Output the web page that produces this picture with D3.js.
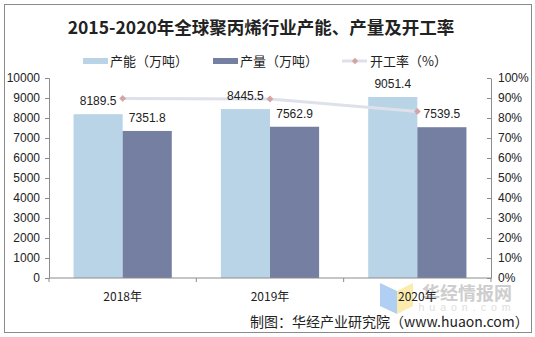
<!DOCTYPE html>
<html><head><meta charset="utf-8">
<script src="https://cdn.jsdelivr.net/npm/d3@7"></script>
<style>
body{margin:0;background:#fff;}
svg{display:block;}
</style></head>
<body>
<svg id="c" width="535" height="337"></svg>
<script>
const categories = ["2018年","2019年","2020年"];
const capacity = [8189.5, 8445.5, 9051.4];
const production = [7351.8, 7562.9, 7539.5];
const rate = [89.8, 89.5, 83.3];
const leftTicks = [0,1000,2000,3000,4000,5000,6000,7000,8000,9000,10000];
const rightTicks = [0,10,20,30,40,50,60,70,80,90,100];
const title = "2015-2020年全球聚丙烯行业产能、产量及开工率";
const legendNames = ["产能（万吨）","产量（万吨）","开工率（%）"];
const source = "制图：华经产业研究院（www.huaon.com）";

const colLight = "#b8d4e6", colDark = "#747fa1", colLine = "#dfe1ea", colDot = "#d4a4a4";
const numFont = "'Liberation Sans', Arial, sans-serif";
const cjkFont = "'Noto Sans CJK SC', 'Liberation Sans', sans-serif";

const svg = d3.select("#c");
svg.append("rect").attr("x",4.5).attr("y",4.5).attr("width",527).attr("height",328)
  .attr("fill","#fff").attr("stroke","#8a8a8a").attr("stroke-width",1);

const L = 49, R = 491, T = 78, B = 278;
const x = d3.scaleBand().domain(categories).range([L,R]).padding(0);
const y = d3.scaleLinear().domain([0,10000]).range([B,T]);
const y2 = d3.scaleLinear().domain([0,100]).range([B,T]);
const bw = x.bandwidth()/3;

// title
svg.append("text").attr("x",261).attr("y",34).attr("text-anchor","middle")
  .attr("font-family","'Noto Sans CJK SC', sans-serif").attr("font-weight","bold")
  .attr("font-size",17.5).attr("fill","#222").text(title);

// legend
const lg = svg.append("g").attr("font-family",cjkFont).attr("font-size",13).attr("fill","#222");
lg.append("rect").attr("x",83).attr("y",58).attr("width",25).attr("height",6).attr("fill",colLight);
lg.append("text").attr("x",110).attr("y",66).text(legendNames[0]);
lg.append("rect").attr("x",213).attr("y",58).attr("width",25).attr("height",6).attr("fill",colDark);
lg.append("text").attr("x",240).attr("y",66).text(legendNames[1]);
lg.append("line").attr("x1",342).attr("x2",367).attr("y1",61).attr("y2",61).attr("stroke",colLine).attr("stroke-width",3);
lg.append("path").attr("d",d3.symbol(d3.symbolDiamond2,26)()).attr("transform","translate(355,61)").attr("fill",colDot);
lg.append("text").attr("x",370).attr("y",66).text(legendNames[2]);

// watermark
const wm = svg.append("g").attr("opacity",0.9);
wm.append("path").attr("d","M380,283 L397,291 L397,314 L380,306 Z").attr("fill","#a9c9f2");
wm.append("path").attr("d","M397,291 L413,283 L413,306 L397,314 Z").attr("fill","#fbeaa6");
wm.append("text").attr("x",467).attr("y",300).attr("text-anchor","middle")
  .attr("font-family","'Noto Sans CJK SC', sans-serif").attr("font-weight","bold")
  .attr("font-size",18).attr("fill","#c9c9c9").text("华经情报网");
wm.append("text").attr("x",467).attr("y",311).attr("text-anchor","middle")
  .attr("font-family",numFont).attr("font-size",10.5).attr("letter-spacing","5")
  .attr("fill","#dcdcdc").text("huaon.com");

// axes
const ax = svg.append("g").attr("transform",`translate(${L},0)`)
  .call(d3.axisLeft(y).tickValues(leftTicks).tickFormat(d3.format("d")).tickSize(4).tickSizeOuter(4).tickPadding(5));
const ax2 = svg.append("g").attr("transform",`translate(${R},0)`)
  .call(d3.axisRight(y2).tickValues(rightTicks).tickFormat(d=>d+"%").tickSize(-4).tickSizeOuter(0).tickPadding(7));
[ax,ax2].forEach(a=>{
  a.selectAll("path.domain").attr("stroke","#8c8c8c");
  a.selectAll("line").attr("stroke","#8c8c8c");
  a.selectAll("text").attr("font-family",numFont).attr("font-size",12).attr("fill","#222");
});

// bars
const g = svg.append("g");
g.selectAll("rect.cap").data(categories).enter().append("rect")
  .attr("x",d=>x(d)+x.bandwidth()/2-bw).attr("width",bw)
  .attr("y",(d,i)=>y(capacity[i])).attr("height",(d,i)=>B-y(capacity[i])).attr("fill",colLight);
g.selectAll("rect.pro").data(categories).enter().append("rect")
  .attr("x",d=>x(d)+x.bandwidth()/2).attr("width",bw)
  .attr("y",(d,i)=>y(production[i])).attr("height",(d,i)=>B-y(production[i])).attr("fill",colDark);

// x axis
const xa = svg.append("g").attr("transform",`translate(0,${B})`)
  .call(d3.axisBottom(x).tickSize(0).tickPadding(14));
xa.selectAll("path.domain").attr("stroke","#8c8c8c").attr("d",`M${L},0H${R}`);
xa.selectAll("text").attr("font-family",cjkFont).attr("font-size",12).attr("fill","#222");
const bounds = categories.map(c=>x(c)).concat([R]);
xa.selectAll("line.b").data(bounds).enter().append("line")
  .attr("x1",d=>d).attr("x2",d=>d).attr("y1",0).attr("y2",4).attr("stroke","#8c8c8c");

// line
const line = d3.line().x((d,i)=>x(categories[i])+x.bandwidth()/2).y(d=>y2(d));
svg.append("path").datum(rate).attr("d",line).attr("fill","none").attr("stroke",colLine).attr("stroke-width",3);
svg.selectAll("path.dot").data(rate).enter().append("path")
  .attr("d",d3.symbol(d3.symbolDiamond2,30)())
  .attr("transform",(d,i)=>`translate(${x(categories[i])+x.bandwidth()/2},${y2(d)})`).attr("fill",colDot);

// labels
const lab = svg.append("g").attr("font-family",numFont).attr("font-size",12).attr("fill","#222").attr("text-anchor","middle");
lab.selectAll("text.c").data(capacity).enter().append("text")
  .attr("x",(d,i)=>x(categories[i])+x.bandwidth()/2-bw/2).attr("y",d=>y(d)-9).text(d=>d.toFixed(1));
lab.selectAll("text.p").data(production).enter().append("text")
  .attr("x",(d,i)=>x(categories[i])+x.bandwidth()/2+bw/2).attr("y",d=>y(d)-9).text(d=>d.toFixed(1));

// source
svg.append("text").attr("x",250).attr("y",327).attr("font-family",cjkFont).attr("font-size",14)
  .attr("fill","#222").text(source);
</script>
</body></html>
